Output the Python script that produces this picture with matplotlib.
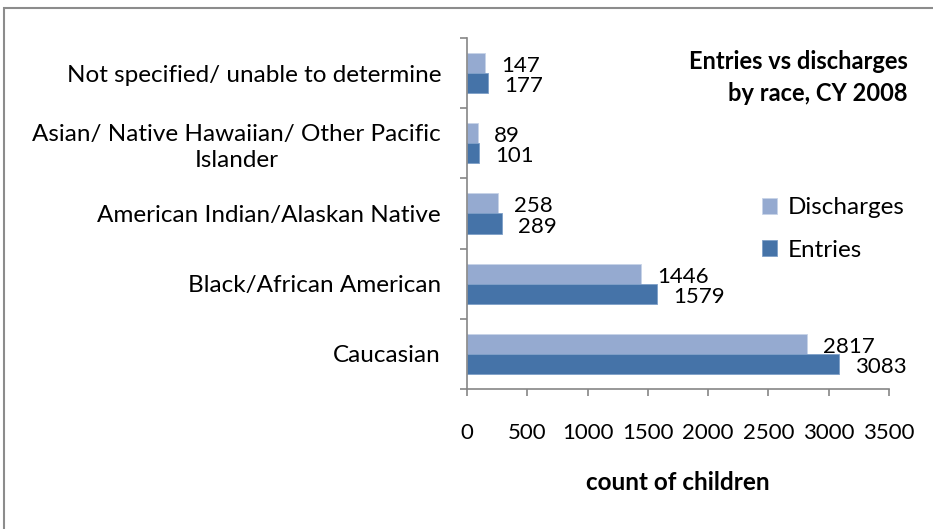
import matplotlib
matplotlib.use("Agg")
import matplotlib.pyplot as plt
from matplotlib.patches import Rectangle
import numpy as np

categories = ["Caucasian", "Black/African American", "American Indian/Alaskan Native",
              "Asian/ Native Hawaiian/ Other Pacific\nIslander", "Not specified/ unable to determine"]
discharges = [2817, 1446, 258, 89, 147]
entries = [3083, 1579, 289, 101, 177]
xticks = [0, 500, 1000, 1500, 2000, 2500, 3000, 3500]

plt.rcParams['font.family'] = ['Lato', 'DejaVu Sans']

c_dis = "#95AAD0"
c_ent = "#4573A8"
gray = "#868686"

fig = plt.figure(figsize=(9.33, 5.29), dpi=100)
fig.patches.append(Rectangle((4/933, -0.1), 1.2, 1 - 8/529 + 0.1, transform=fig.transFigure,
                             fill=False, edgecolor="#8c8c8c", linewidth=1.5))
ax = fig.add_axes([467/933, 1-389/529, (889-467)/933, (389-38)/529])

y = np.arange(len(categories))
h = 20/70
ax.barh(y + h/2, discharges, height=h, color=c_dis, edgecolor="#c7d3e8", linewidth=0.6, label="Discharges")
ax.barh(y - h/2, entries, height=h, color=c_ent, edgecolor="#7e9fc8", linewidth=0.6, label="Entries")

fs_txt = 17.5
fs_num = 16
for yi, d, e in zip(y, discharges, entries):
    ax.annotate(str(d), (d, yi + h/2), xytext=(16, -3), textcoords="offset pixels",
                ha="left", va="center", fontsize=fs_num)
    ax.annotate(str(e), (e, yi - h/2), xytext=(16, -3), textcoords="offset pixels",
                ha="left", va="center", fontsize=fs_num)

ax.set_xlim(0, 3500)
ax.set_ylim(-0.5, len(categories) - 0.5)
ax.set_xticks(xticks)
ax.set_xticklabels([str(t) for t in xticks], fontsize=fs_num)
ax.set_yticks(y)
ax.set_yticklabels(categories, fontsize=fs_txt, multialignment="center", linespacing=1.25)
ax.set_yticks(np.arange(-0.5, len(categories)), minor=True)
ax.tick_params(axis="y", which="major", length=0, pad=18.7)
ax.tick_params(axis="y", which="minor", length=5, color=gray, width=1.2)
ax.tick_params(axis="x", which="major", length=5, color=gray, width=1.2, pad=19.5)
for s in ["top", "right"]:
    ax.spines[s].set_visible(False)
for s in ["left", "bottom"]:
    ax.spines[s].set_color(gray)
    ax.spines[s].set_linewidth(1.2)

ax.set_xlabel("count of children", fontsize=17.5, fontweight="bold", labelpad=20)

fig.text(908/933, 1-50/529, "Entries vs discharges\nby race, CY 2008", ha="right", va="top",
         fontsize=17, fontweight="bold", linespacing=1.45)

leg = ax.legend(loc="center left", bbox_to_anchor=((762-467)/422, 1-(229-38)/351), frameon=False,
                fontsize=fs_txt, handlelength=0.62, handleheight=0.62, handletextpad=0.45,
                labelspacing=0.88, borderaxespad=0, borderpad=0)

fig.savefig("out.png", dpi=100)
